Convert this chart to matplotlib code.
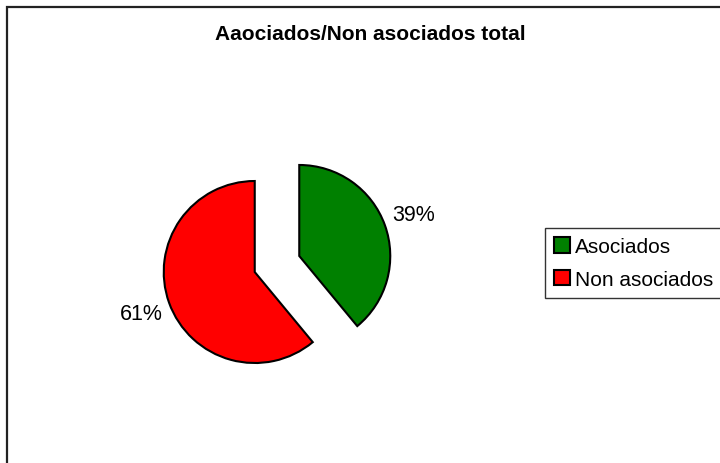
import matplotlib.pyplot as plt
from matplotlib.patches import Rectangle

# Daten
categories = ['Asociados', 'Non asociados']
values = [39, 61]
colors = ['#008000', '#FF0000']
title = 'Aaociados/Non asociados total'

plt.rcParams['font.family'] = ['Liberation Sans', 'DejaVu Sans']

fig = plt.figure(figsize=(7.2, 4.64), dpi=100)

# Rahmen wie im Excel-Diagramm (rechts/unten abgeschnitten)
fig.patches.append(Rectangle((7 / 720, -0.1), 1.2, (464 - 8) / 464 + 0.1,
                             transform=fig.transFigure, fill=False,
                             edgecolor='#222222', linewidth=1.6, zorder=0))

ax = fig.add_axes([0, 0, 1, 1])
ax.axis('off')

wedges, texts, autotexts = ax.pie(
    values, colors=colors, startangle=90, counterclock=False,
    explode=[0.26, 0.26], radius=1.0,
    autopct='%1.0f%%', pctdistance=1.33,
    wedgeprops=dict(edgecolor='black', linewidth=1.5),
    textprops=dict(fontsize=15.5, color='black'))

# Pixel-Skalierung: Zentrum bei (277, 265), Radius 91 px
cx, cy, r = 277, 265, 91
ax.set_xlim(-cx / r, (720 - cx) / r)
ax.set_ylim(-(464 - cy) / r, cy / r)

fig.text(370 / 720, 1 - 35 / 464, title, ha='center', va='center',
         fontsize=15, fontweight='bold')

leg = fig.legend(wedges, categories, loc='center left',
                 bbox_to_anchor=(545 / 720, 1 - 264 / 464),
                 fontsize=15, frameon=True, fancybox=False,
                 edgecolor='black', handlelength=0.75, handleheight=0.75,
                 handletextpad=0.25, borderpad=0.45, labelspacing=0.65,
                 borderaxespad=0)
leg.get_frame().set_linewidth(1.0)

fig.savefig('out.png', dpi=100)
